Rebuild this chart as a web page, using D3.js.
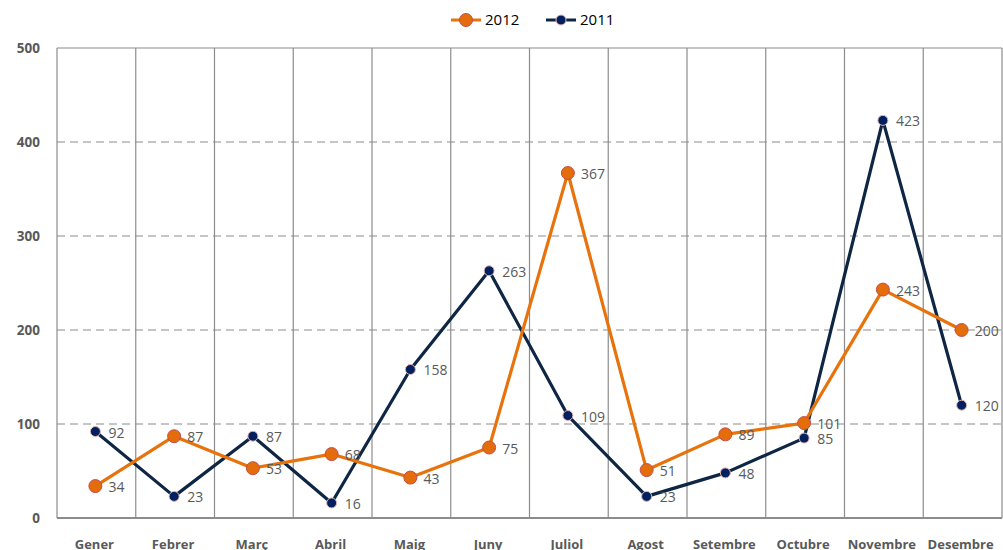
<!DOCTYPE html>
<html>
<head>
<meta charset="utf-8">
<script src="https://cdn.jsdelivr.net/npm/d3@7"></script>
<style>
  body { margin: 0; background: #fff; }
  svg { display: block; font-family: "Open Sans", "DejaVu Sans", sans-serif; }
</style>
</head>
<body>
<script>
const months = ["Gener", "Febrer", "Març", "Abril", "Maig", "Juny", "Juliol", "Agost", "Setembre", "Octubre", "Novembre", "Desembre"];
const values2012 = [34, 87, 53, 68, 43, 75, 367, 51, 89, 101, 243, 200];
const values2011 = [92, 23, 87, 16, 158, 263, 109, 23, 48, 85, 423, 120];
const yTicks = [0, 100, 200, 300, 400, 500];

let w = 1003;
let h = 550;
let plotLeft = 57, plotRight = 1002, plotTop = 48, plotBottom = 518;

let svg = d3.select("body")
  .append("svg")
  .attr("width", w)
  .attr("height", h)

// scales
let x = d3.scaleBand().domain(months).range([plotLeft, plotRight])
let y = d3.scaleLinear().domain([0, 500]).range([plotBottom, plotTop])

// horizontal grid
svg.append("g")
  .selectAll("line")
  .data(yTicks.filter(d => d > 0))
  .enter()
  .append("line")
  .attr("x1", plotLeft)
  .attr("x2", plotRight)
  .attr("y1", d => y(d))
  .attr("y2", d => y(d))
  .attr("stroke", "#8c8c8c")
  .attr("stroke-width", 1.2)
  .attr("stroke-dasharray", d => d == 500 ? null : "8,5")

// vertical separators
let bounds = months.map(m => x(m)).concat([plotRight])
svg.append("g")
  .selectAll("line")
  .data(bounds)
  .enter()
  .append("line")
  .attr("x1", d => d)
  .attr("x2", d => d)
  .attr("y1", plotTop)
  .attr("y2", plotBottom)
  .attr("stroke", "#8c8c8c")
  .attr("stroke-width", 1.2)

// baseline
svg.append("line")
  .attr("x1", plotLeft).attr("x2", plotRight)
  .attr("y1", y(0)).attr("y2", y(0))
  .attr("stroke", "#8c8c8c")
  .attr("stroke-width", 2)

// y labels
svg.append("g")
  .selectAll("text")
  .data(yTicks)
  .enter()
  .append("text")
  .attr("x", 40)
  .attr("y", d => y(d))
  .attr("dy", "0.35em")
  .attr("text-anchor", "end")
  .attr("font-size", 13.5)
  .attr("font-weight", "bold")
  .attr("fill", "#595959")
  .text(d => d)

// x labels
svg.append("g")
  .selectAll("text")
  .data(months)
  .enter()
  .append("text")
  .attr("x", d => x(d) + x.bandwidth() / 2 - 2)
  .attr("y", 549)
  .attr("text-anchor", "middle")
  .attr("font-size", 13)
  .attr("font-weight", "bold")
  .attr("fill", "#595959")
  .text(d => d)

let cx = i => x(months[i]) + x.bandwidth() / 2 - 1
let line = d3.line().x((d, i) => cx(i)).y(d => y(d))

const series = [
  { name: "2011", values: values2011, color: "#0e2644", fill: "#002060", stroke: "#e8b4b0", r: 5 },
  { name: "2012", values: values2012, color: "#e8720c", fill: "#e46c0a", stroke: "#c0504d", r: 6.5 }
]

series.forEach(s => {
  svg.append("path")
    .datum(s.values)
    .attr("d", line)
    .attr("fill", "none")
    .attr("stroke", s.color)
    .attr("stroke-width", 3.2)
    .attr("stroke-linejoin", "round")
})

series.forEach(s => {
  let g = svg.append("g")
  g.selectAll("circle")
    .data(s.values)
    .enter()
    .append("circle")
    .attr("cx", (d, i) => cx(i))
    .attr("cy", d => y(d))
    .attr("r", s.r)
    .attr("fill", s.fill)
    .attr("stroke", s.stroke)
    .attr("stroke-width", 1)
  g.selectAll("text")
    .data(s.values)
    .enter()
    .append("text")
    .attr("x", (d, i) => cx(i) + 13)
    .attr("y", d => y(d) + 6)
    .attr("font-size", 14)
    .attr("fill", "#595959")
    .text(d => d)
})

// legend
let legend = svg.append("g")
const legItems = [
  { name: "2012", color: "#e8720c", fill: "#e46c0a", stroke: "#c0504d", r: 6.5, x: 451 },
  { name: "2011", color: "#0e2644", fill: "#002060", stroke: "#e8b4b0", r: 5, x: 546 }
]
legItems.forEach(l => {
  legend.append("line")
    .attr("x1", l.x).attr("x2", l.x + 30)
    .attr("y1", 20).attr("y2", 20)
    .attr("stroke", l.color)
    .attr("stroke-width", 3)
  legend.append("circle")
    .attr("cx", l.x + 15).attr("cy", 20).attr("r", l.r)
    .attr("fill", l.fill)
    .attr("stroke", l.stroke)
  legend.append("text")
    .attr("x", l.x + 34)
    .attr("y", 20)
    .attr("dy", "0.35em")
    .attr("font-size", 15)
    .attr("fill", "#000")
    .text(l.name)
})
</script>
</body>
</html>
